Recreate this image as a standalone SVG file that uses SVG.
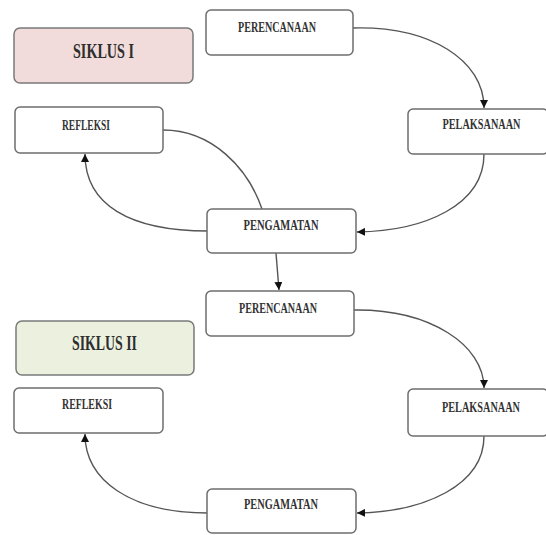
<svg xmlns="http://www.w3.org/2000/svg" width="546" height="535" viewBox="0 0 546 535">
<defs>
<style>
.box{fill:#ffffff;stroke:#6e6e6e;stroke-width:1.5}
.s1{fill:#f2dcdb;stroke:#7a7a7a;stroke-width:1.5}
.s2{fill:#ebf1de;stroke:#7a7a7a;stroke-width:1.5}
.lbl{font-family:"Liberation Serif","Times New Roman",serif;font-size:14px;font-weight:bold;fill:#333333;text-anchor:middle}
.big{font-family:"Liberation Serif","Times New Roman",serif;font-size:22px;font-weight:bold;fill:#2e2e2e;text-anchor:middle}
.con{fill:none;stroke:#555555;stroke-width:1.4}
</style>
<marker id="arr" viewBox="0 0 10 10" refX="10" refY="5" markerWidth="8" markerHeight="8" markerUnits="userSpaceOnUse" orient="auto">
<path d="M0,0 L10,5 L0,10 z" fill="#111111"/>
</marker>
</defs>
<rect width="546" height="535" fill="#ffffff"/>

<g id="connectors">
<path class="con" d="M353,28 C430,26 484,60 484,108" marker-end="url(#arr)"/>
<path class="con" d="M484,154 C484,205 425,231 357,232" marker-end="url(#arr)"/>
<path class="con" d="M163,130 C212,130 248,168 262,209"/>
<path class="con" d="M208,231 C130,231 85,205 85,154" marker-end="url(#arr)"/>
<path class="con" d="M276,253 L279,290" marker-end="url(#arr)"/>
<path class="con" d="M354,310 C430,309 484,345 484,388" marker-end="url(#arr)"/>
<path class="con" d="M484,436 C484,485 425,512 357,513" marker-end="url(#arr)"/>
<path class="con" d="M208,513 C130,513 85,480 85,434" marker-end="url(#arr)"/>
</g>

<g id="siklus1">
<rect class="s1" x="14" y="28" width="179" height="55" rx="6"/>
<text class="big" x="103.5" y="58" textLength="61" lengthAdjust="spacingAndGlyphs">SIKLUS I</text>
</g>
<g id="perencanaan1">
<rect class="box" x="206" y="10" width="147" height="45" rx="5"/>
<text class="lbl" x="277" y="32" textLength="78" lengthAdjust="spacingAndGlyphs">PERENCANAAN</text>
</g>
<g id="pelaksanaan1">
<rect class="box" x="408" y="109" width="140" height="45" rx="5"/>
<text class="lbl" x="481.5" y="128.5" textLength="78" lengthAdjust="spacingAndGlyphs">PELAKSANAAN</text>
</g>
<g id="refleksi1">
<rect class="box" x="15" y="107" width="148" height="46" rx="5"/>
<text class="lbl" x="86" y="130" textLength="48" lengthAdjust="spacingAndGlyphs">REFLEKSI</text>
</g>
<g id="pengamatan1">
<rect class="box" x="207" y="209" width="149" height="44" rx="5"/>
<text class="lbl" x="281" y="230" textLength="75" lengthAdjust="spacingAndGlyphs">PENGAMATAN</text>
</g>

<g id="siklus2">
<rect class="s2" x="16" y="321" width="178" height="54" rx="6"/>
<text class="big" x="104.5" y="350" textLength="65" lengthAdjust="spacingAndGlyphs">SIKLUS II</text>
</g>
<g id="perencanaan2">
<rect class="box" x="206" y="291" width="148" height="45" rx="5"/>
<text class="lbl" x="278" y="313" textLength="78" lengthAdjust="spacingAndGlyphs">PERENCANAAN</text>
</g>
<g id="pelaksanaan2">
<rect class="box" x="408" y="389" width="140" height="47" rx="5"/>
<text class="lbl" x="481" y="412" textLength="78" lengthAdjust="spacingAndGlyphs">PELAKSANAAN</text>
</g>
<g id="refleksi2">
<rect class="box" x="14" y="388" width="149" height="45" rx="5"/>
<text class="lbl" x="87" y="409" textLength="50" lengthAdjust="spacingAndGlyphs">REFLEKSI</text>
</g>
<g id="pengamatan2">
<rect class="box" x="207" y="489" width="149" height="44" rx="5"/>
<text class="lbl" x="281" y="509" textLength="74" lengthAdjust="spacingAndGlyphs">PENGAMATAN</text>
</g>
</svg>
